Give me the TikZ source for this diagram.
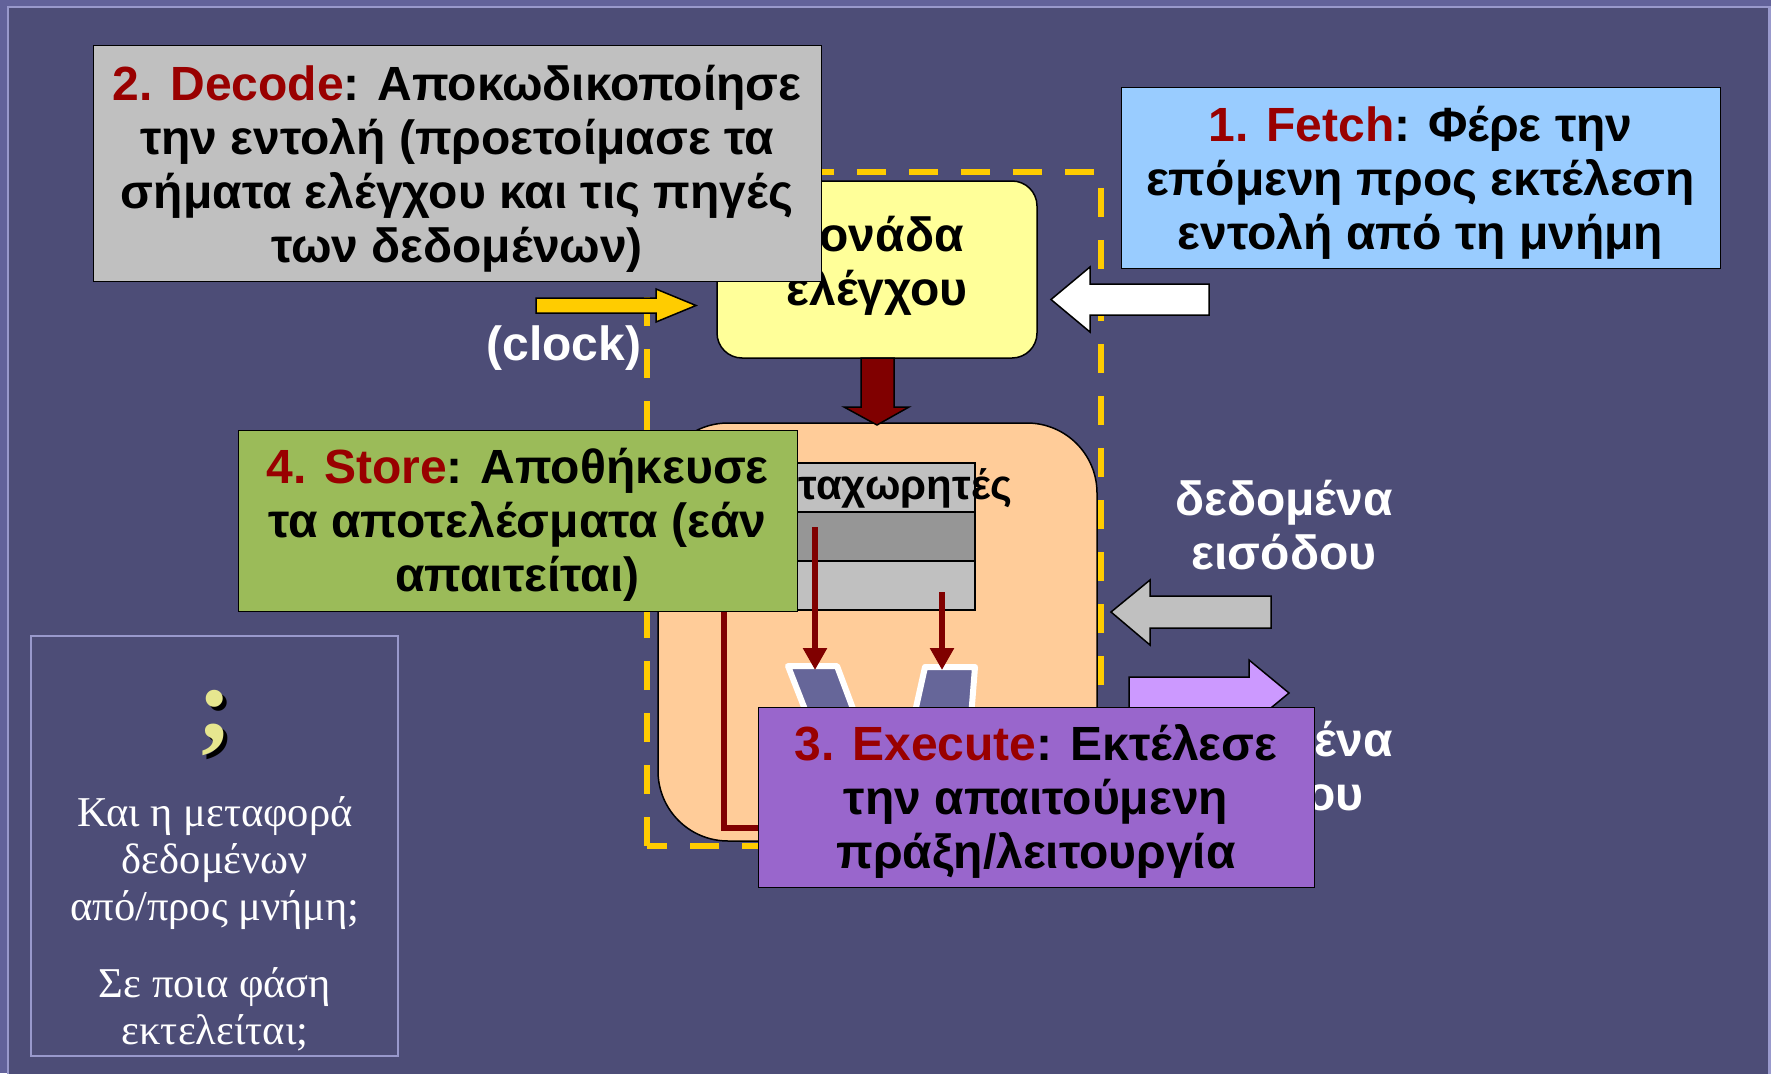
\documentclass[tikz,border=0pt]{standalone}
\usepackage{fontspec}
\setmainfont{Liberation Serif}
\newfontfamily\boxfont{Liberation Sans}
\usepackage{xcolor}
\usetikzlibrary{arrows.meta,calc}
\definecolor{slidebg}{HTML}{4D4D77}
\definecolor{slideedge}{HTML}{62629A}
\definecolor{slideline}{HTML}{9999CC}
\definecolor{stepred}{HTML}{990000}
\definecolor{arrowred}{HTML}{800000}
\definecolor{decodegray}{HTML}{C0C0C0}
\definecolor{regdark}{HTML}{969696}
\definecolor{fetchblue}{HTML}{99CCFF}
\definecolor{storegreen}{HTML}{9BBB59}
\definecolor{execpurple}{HTML}{9966CC}
\definecolor{ctrlyellow}{HTML}{FFFF99}
\definecolor{alupeach}{HTML}{FFCC99}
\definecolor{clockyellow}{HTML}{FFCC00}
\definecolor{outlilac}{HTML}{CC99FF}
\definecolor{aluslate}{HTML}{666699}
\definecolor{askyellow}{HTML}{E6E68F}
\tikzset{
  bigfont/.style={font=\boxfont\bfseries\fontsize{48}{54}\selectfont},
  phasebox/.style={draw=black, line width=1pt, inner sep=0pt},
  phasetext/.style={bigfont, inner sep=0pt, align=center},
  whitelabel/.style={bigfont, text=white, inner sep=0pt, align=center},
  blockarrow/.style={draw=black, line width=1.5pt, line join=miter},
  regrow/.style={draw=black, line width=1.5pt, inner sep=0pt, minimum width=215pt, minimum height=49pt},
  aluin/.style={draw=white, line width=6pt, fill=aluslate, line join=round},
  regarrow/.style={arrowred, line width=6pt, -{Triangle[length=22pt,width=23pt]}},
  asktext/.style={text=white, inner sep=0pt, align=center, font=\fontsize{42.5}{47}\selectfont},
  askmarkfont/.style={inner sep=0pt, anchor=base, font=\bfseries\fontsize{105}{105}\selectfont}
}
\begin{document}
\begin{tikzpicture}[x=1pt,y=-1pt]
\useasboundingbox (0,0) rectangle (1771,1073);
% slide frame
\fill[slideedge] (0,0) rectangle (1771,1073);
\draw[slideline, line width=2.5pt, fill=slidebg] (8,7) rectangle (1769.5,1095);

% question box
\node[draw=slideline, line width=2pt, minimum width=367pt, minimum height=420pt, inner sep=0pt] (ask) at (214.5,846) {};
\node[askmarkfont, text=black] (askshadow) at (219,743) {;};
\node[askmarkfont, text=askyellow] (askmark) at (215,739) {;};
\node[asktext] (askmove) at (215,863) {Και η μεταφορά\\δεδομένων\\από/προς μνήμη;};
\node[asktext] (askphase) at (215,1009) {Σε ποια φάση\\εκτελείται;};

\draw[clockyellow, line width=6pt, dash pattern=on 29pt off 23pt] (647,846) rectangle (1101,172);

% control unit
\node[phasebox, line width=1.5pt, fill=ctrlyellow, rounded corners=25pt, minimum width=320pt, minimum height=177pt] (ctrl) at (877,269.5) {};
\node[phasetext] (ctrltext) at (877,265.5) {μονάδα\\ελέγχου};
\draw[blockarrow, fill=clockyellow] (536,298) -- (656,298) -- (656,289) -- (696,305.5) -- (656,322) -- (656,313) -- (536,313) -- cycle;
\node[whitelabel] (clock) at (564,348) {(clock)};
\draw[blockarrow, fill=white] (1209,284) -- (1090,284) -- (1090,267) -- (1051,299.5) -- (1090,332) -- (1090,315) -- (1209,315) -- cycle;

% datapath
\node[draw=black, line width=1.5pt, fill=alupeach, rounded corners=70pt, minimum width=439pt, minimum height=418pt] (datapath) at (877.5,632) {};
\node[regrow, fill=decodegray] (regtop) at (867.5,487.5) {};
\node[regrow, fill=regdark] (regmid) at (867.5,536.5) {};
\node[regrow, fill=decodegray] (regbot) at (867.5,585.5) {};
\node[phasetext, anchor=east, font=\boxfont\bfseries\fontsize{42}{50}\selectfont] (regtext) at (1012,488) {καταχωρητές};
\draw[aluin] (788,666) -- (837,666) -- (861,730) -- (813,730) -- cycle;
\draw[aluin] (925,667) -- (975,667) -- (970,730) -- (911,730) -- cycle;
\coordinate (srcA) at (815,527);
\coordinate (srcB) at (942,592);
\coordinate (aluA) at (815,670);
\coordinate (aluB) at (942,670);
\draw[regarrow] (srcA) -- (aluA);
\draw[regarrow] (srcB) -- (aluB);
\coordinate (aluout) at (770,828);
\coordinate (regback) at (724,605);
\draw[arrowred, line width=6pt] (regback) |- (aluout);
\draw[blockarrow, fill=arrowred] (861,358) -- (861,407) -- (844,407) -- (877,425) -- (909,407) -- (894,407) -- (894,358) -- cycle;

% phases
\node[phasebox, fill=decodegray, minimum width=728pt, minimum height=235pt] (decode) at (457,163.5) {};
\node[phasetext] (decodetext) at ($(decode)+(0,5.5)$)
  {\textcolor{stepred}{2. Decode}: Αποκωδικοποίησε\\την εντολή (προετοίμασε τα\\σήματα ελέγχου και τις πηγές\\των δεδομένων)};
\node[phasebox, fill=fetchblue, minimum width=599pt, minimum height=181pt] (fetch) at (1420.5,177.5) {};
\node[phasetext] (fetchtext) at ($(fetch)+(0,5)$)
  {\textcolor{stepred}{1. Fetch}: Φέρε την\\επόμενη προς εκτέλεση\\εντολή από τη μνήμη};
\node[phasebox, fill=storegreen, minimum width=559pt, minimum height=181pt] (store) at (517.5,520.5) {};
\node[phasetext] (storetext) at ($(store)+(0,4.5)$)
  {\textcolor{stepred}{4. Store}: Αποθήκευσε\\τα αποτελέσματα (εάν\\απαιτείται)};

% data in and out
\draw[blockarrow, fill=decodegray] (1271,596) -- (1150,596) -- (1150,580) -- (1111,612) -- (1150,645) -- (1150,628) -- (1271,628) -- cycle;
\node[whitelabel] (datain) at (1284,525) {δεδομένα\\εισόδου};
\draw[blockarrow, fill=outlilac] (1129,677) -- (1249,677) -- (1249,660) -- (1289,693) -- (1249,726) -- (1249,709) -- (1129,709) -- cycle;
\node[whitelabel] (dataout) at (1284,771) {δεδομένα\\εξόδου};

\node[phasebox, fill=execpurple, minimum width=556pt, minimum height=180pt] (execute) at (1036,797) {};
\node[phasetext] (executetext) at ($(execute)+(0,4.5)$)
  {\textcolor{stepred}{3. Execute}: Εκτέλεσε\\την απαιτούμενη\\πράξη/λειτουργία};
\end{tikzpicture}
\end{document}
